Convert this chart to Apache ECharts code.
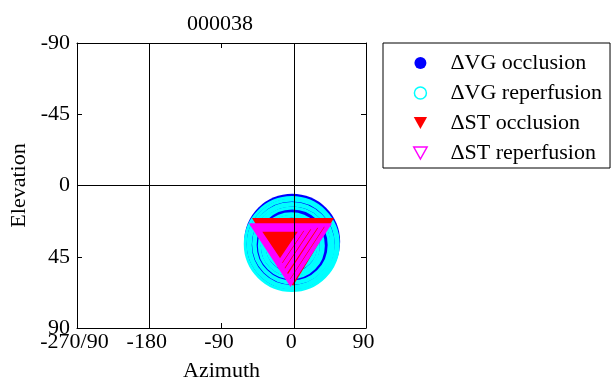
<!DOCTYPE html>
<html>
<head>
<meta charset="utf-8">
<script src="https://cdn.jsdelivr.net/npm/echarts@6/dist/echarts.min.js"></script>
<style>
  html, body { margin: 0; padding: 0; background: #fff; }
  #chart { width: 612px; height: 380px; }
</style>
</head>
<body>
<div id="chart"></div>
<script>
var azTicks = [-270, -180, -90, 0, 90];
var azLabels = ['-270/90', '-180', '-90', '0', '90'];
var elTicks = [-90, -45, 0, 45, 90];
var refAz = [-180, 0];   // black reference lines
var refEl = [0];

// [azimuth, elevation, markerSize]
var vgOcc = [[-2, 35.5, 96], [-3, 38, 72]];
var vgRep = [[-2.5, 37, 93], [-2, 37, 88], [-2.5, 37.5, 83], [-1.5, 37, 78], [-2, 37.5, 74],
             [-3, 38, 64], [-2.5, 38, 59], [-3, 38.5, 54], [-3, 38, 49], [-3.5, 38.5, 44]];
// [azimuth, elevation, markerWidth, markerHeight]
var stOcc = [[-0.9, 42.0, 82, 68]];
var stRep = [[-4.1, 43.3, 76, 58], [-7.2, 42.0, 68, 52], [-10.9, 40.7, 60, 45],
             [-14.0, 39.5, 51, 38], [-17.1, 38.2, 43, 32]];

var font = 'Liberation Serif';
var fs = 22;
var downTri = 'path://M0,0 L10,0 L5,9 Z';

var myChart = echarts.init(document.getElementById('chart'));

var axisCommon = {
    axisLine: {show: true, onZero: false, lineStyle: {color: '#000', width: 1}},
    axisTick: {show: true, inside: true, length: 5, lineStyle: {color: '#000'}},
    splitLine: {show: false}
};

var option = {
    animation: false,
    backgroundColor: '#fff',
    title: {
        text: '000038',
        left: 215,
        textAlign: 'center',
        top: 8,
        textStyle: {fontFamily: font, fontSize: fs, fontWeight: 'normal', color: '#000'}
    },
    legend: {
        left: 383,
        top: 43,
        orient: 'vertical',
        padding: [9, 8, 4, 30],
        itemWidth: 50,
        itemHeight: 12,
        itemGap: 8,
        borderColor: '#000',
        borderWidth: 1,
        backgroundColor: '#fff',
        textStyle: {fontFamily: font, fontSize: fs, lineHeight: 22, color: '#000'},
        data: [
            {name: '\u0394VG occlusion', icon: 'circle', itemStyle: {color: '#0000ff', borderWidth: 0}},
            {name: '\u0394VG reperfusion', icon: 'circle', itemStyle: {color: 'rgba(0,0,0,0)', borderColor: '#00ffff', borderWidth: 1.5}},
            {name: '\u0394ST occlusion', icon: downTri, itemStyle: {color: '#ff0000', borderWidth: 0}},
            {name: '\u0394ST reperfusion', icon: downTri, itemStyle: {color: 'rgba(0,0,0,0)', borderColor: '#ff00ff', borderWidth: 1.5}}
        ]
    },
    grid: {left: 77, right: 246, top: 43, bottom: 52, show: false, outerBoundsMode: 'none', containLabel: false},
    xAxis: [
        Object.assign({}, axisCommon, {
            type: 'value', position: 'bottom',
            min: azTicks[0], max: azTicks[azTicks.length - 1], interval: 90,
            name: 'Azimuth', nameLocation: 'middle', nameGap: 32,
            nameTextStyle: {fontFamily: font, fontSize: fs, color: '#000'},
            axisLabel: {
                fontFamily: font, fontSize: fs, color: '#000', margin: 3,
                padding: [0, 5, 0, 0],
                formatter: function (v) { return azLabels[azTicks.indexOf(v)]; }
            }
        }),
        Object.assign({}, axisCommon, {
            type: 'value', position: 'top',
            min: azTicks[0], max: azTicks[azTicks.length - 1], interval: 90,
            axisLabel: {show: false}
        })
    ],
    yAxis: [
        Object.assign({}, axisCommon, {
            type: 'value', position: 'left', inverse: true,
            min: elTicks[0], max: elTicks[elTicks.length - 1], interval: 45,
            name: 'Elevation', nameLocation: 'middle', nameGap: 47,
            nameTextStyle: {fontFamily: font, fontSize: fs, color: '#000'},
            axisLabel: {fontFamily: font, fontSize: fs, color: '#000', margin: 7}
        }),
        Object.assign({}, axisCommon, {
            type: 'value', position: 'right', inverse: true,
            min: elTicks[0], max: elTicks[elTicks.length - 1], interval: 45,
            axisLabel: {show: false}
        })
    ],
    series: [
        {
            name: '\u0394VG occlusion', type: 'scatter', symbol: 'circle',
            symbolSize: function (v) { return v[2]; },
            itemStyle: {color: '#0000ff', opacity: 1},
            data: vgOcc
        },
        {
            name: '\u0394VG reperfusion', type: 'scatter', symbol: 'circle',
            symbolSize: function (v) { return v[2]; },
            itemStyle: {color: 'rgba(0,0,0,0)', borderColor: '#00ffff', borderWidth: 3, opacity: 1},
            data: vgRep
        },
        {
            name: '\u0394ST occlusion', type: 'scatter', symbol: 'triangle', symbolRotate: 180,
            symbolSize: function (v) { return [v[2], v[3]]; },
            itemStyle: {color: '#ff0000', opacity: 1},
            data: stOcc
        },
        {
            name: '\u0394ST reperfusion', type: 'scatter', symbol: 'triangle', symbolRotate: 180,
            symbolSize: function (v) { return [v[2], v[3]]; },
            itemStyle: {color: 'rgba(0,0,0,0)', borderColor: '#ff00ff', borderWidth: 4, opacity: 1},
            data: stRep
        },
        {
            name: 'ref', type: 'scatter', data: [], z: 10,
            markLine: {
                silent: true, symbol: 'none', animation: false,
                label: {show: false},
                lineStyle: {color: '#000', width: 1, type: 'solid'},
                data: refAz.map(function (a) { return {xAxis: a}; })
                    .concat(refEl.map(function (e) { return {yAxis: e}; }))
            }
        }
    ]
};

myChart.setOption(option);
</script>
</body>
</html>
